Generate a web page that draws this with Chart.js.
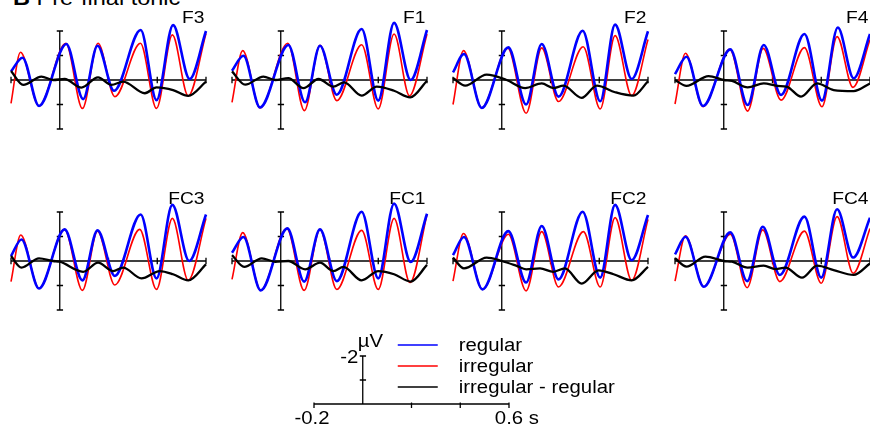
<!DOCTYPE html>
<html>
<head>
<meta charset="utf-8">
<script src="https://cdn.jsdelivr.net/npm/chart.js@4.4.1/dist/chart.umd.min.js"></script>
<style>
html, body { margin: 0; padding: 0; background: #fff; width: 870px; height: 431px; overflow: hidden; }
canvas { position: absolute; }
#title { position: absolute; left: 13px; top: -13px; font: 21px "Liberation Sans", Arial, sans-serif; line-height: 21px; white-space: nowrap; transform: scaleX(1.12); transform-origin: 0 0; }
</style>
</head>
<body>
<div id="title"><b>B</b> Pre-final tonic</div>
<script>
// electrodes, in reading order (row 1 then row 2)
const electrodes = ['F3', 'F1', 'F2', 'F4', 'FC3', 'FC1', 'FC2', 'FC4'];
const legendLabels = ['regular', 'irregular', 'irregular - regular'];
const timeTicks = [-0.2, 0, 0.2, 0.4, 0.6];
const voltTicks = [-2, -1, 0, 1, 2];
const scaleTimeLabels = ['-0.2', '0.6 s'];
const scaleVoltLabels = ['-2', 'µV'];

// [time (s), amplitude (µV)] at peaks / troughs
const F3_regular = [[-0.2,-0.35],[-0.153,-0.91],[-0.085,1.06],[0.027,-1.47],[0.096,0.78],[0.155,-1.40],[0.223,0.44],[0.332,-2.04],[0.397,0.82],[0.465,-2.24],[0.533,-0.04],[0.6,-2.0]];
const F3_irregular = [[-0.2,0.95],[-0.161,-1.13],[-0.085,1.06],[0.025,-1.50],[0.093,1.16],[0.157,-1.50],[0.226,0.68],[0.331,-1.50],[0.397,1.16],[0.462,-1.84],[0.527,0.65],[0.6,-1.9]];
const F3_diff = [[-0.2,-0.37],[-0.15,0.2],[-0.075,-0.14],[-0.027,0.0],[0.02,-0.04],[0.089,0.31],[0.157,-0.11],[0.212,0.2],[0.26,0.07],[0.349,0.54],[0.397,0.3],[0.465,0.41],[0.527,0.65],[0.6,0.07]];

const F1_regular = [[-0.2,-0.38],[-0.153,-0.99],[-0.085,1.12],[0.031,-1.43],[0.1,0.91],[0.161,-1.40],[0.23,0.6],[0.332,-2.08],[0.4,0.84],[0.465,-2.33],[0.533,0.0],[0.6,-2.04]];
const F1_irregular = [[-0.2,0.91],[-0.156,-1.2],[-0.085,1.14],[0.029,-1.5],[0.097,1.25],[0.161,-1.42],[0.23,0.84],[0.332,-1.44],[0.4,1.18],[0.465,-1.88],[0.528,0.64],[0.6,-1.88]];
const F1_diff = [[-0.2,-0.35],[-0.146,0.19],[-0.071,-0.14],[-0.023,0.0],[0.031,-0.08],[0.093,0.33],[0.155,-0.04],[0.216,0.27],[0.26,0.1],[0.332,0.64],[0.394,0.27],[0.465,0.44],[0.531,0.71],[0.6,0.03]];

const F2_regular = [[-0.2,-0.31],[-0.155,-1.06],[-0.082,1.14],[0.027,-1.33],[0.1,1.0],[0.164,-1.47],[0.233,0.68],[0.332,-2.01],[0.404,0.87],[0.465,-2.26],[0.533,-0.04],[0.6,-1.99]];
const F2_irregular = [[-0.2,1.0],[-0.157,-1.2],[-0.082,1.14],[0.025,-1.3],[0.1,1.36],[0.164,-1.31],[0.233,0.88],[0.334,-1.36],[0.404,1.18],[0.465,-1.81],[0.533,0.64],[0.6,-1.65]];
const F2_diff = [[-0.2,-0.08],[-0.15,0.23],[-0.062,-0.22],[0.02,0.0],[0.096,0.33],[0.164,0.14],[0.212,0.33],[0.253,0.23],[0.328,0.73],[0.39,0.23],[0.465,0.5],[0.54,0.64],[0.6,0.05]];

const F4_regular = [[-0.2,-0.24],[-0.153,-0.95],[-0.085,1.06],[0.027,-1.25],[0.098,1.02],[0.164,-1.43],[0.235,0.61],[0.331,-1.88],[0.403,0.84],[0.468,-2.14],[0.533,-0.07],[0.6,-1.88]];
const F4_irregular = [[-0.2,0.98],[-0.157,-1.09],[-0.085,1.09],[0.025,-1.25],[0.098,1.27],[0.162,-1.29],[0.235,0.82],[0.331,-1.32],[0.403,1.09],[0.465,-1.77],[0.53,0.3],[0.6,-1.65]];
const F4_diff = [[-0.2,0.0],[-0.153,0.24],[-0.062,-0.16],[0.0,0.0],[0.034,0.04],[0.098,0.3],[0.164,0.14],[0.219,0.24],[0.26,0.28],[0.317,0.68],[0.383,0.14],[0.451,0.41],[0.533,0.45],[0.6,0.14]];

const FC3_regular = [[-0.2,-0.2],[-0.157,-0.88],[-0.085,1.12],[0.02,-1.29],[0.093,0.79],[0.155,-1.25],[0.226,0.61],[0.332,-1.9],[0.397,0.71],[0.462,-2.29],[0.531,0.0],[0.6,-1.9]];
const FC3_irregular = [[-0.2,0.84],[-0.16,-1.06],[-0.085,1.12],[0.02,-1.29],[0.093,1.2],[0.155,-1.22],[0.226,0.98],[0.328,-1.29],[0.397,1.16],[0.462,-1.74],[0.527,0.79],[0.6,-1.74]];
const FC3_diff = [[-0.2,-0.2],[-0.157,0.27],[-0.085,-0.11],[-0.027,0.0],[0.0,0.03],[0.096,0.44],[0.157,0.07],[0.219,0.41],[0.26,0.27],[0.335,0.71],[0.41,0.41],[0.465,0.54],[0.527,0.79],[0.6,0.14]];

const FC1_regular = [[-0.2,-0.34],[-0.153,-0.98],[-0.082,1.2],[0.027,-1.33],[0.096,0.84],[0.161,-1.29],[0.23,0.82],[0.332,-2.01],[0.4,0.71],[0.465,-2.34],[0.533,0.04],[0.6,-1.93]];
const FC1_irregular = [[-0.2,0.75],[-0.156,-1.16],[-0.082,1.2],[0.025,-1.33],[0.096,1.2],[0.161,-1.29],[0.23,1.16],[0.332,-1.25],[0.4,1.16],[0.465,-1.74],[0.53,0.88],[0.6,-1.9]];
const FC1_diff = [[-0.2,-0.24],[-0.15,0.24],[-0.078,-0.11],[-0.023,0.03],[0.031,0.0],[0.1,0.34],[0.161,0.07],[0.216,0.41],[0.257,0.24],[0.332,0.79],[0.4,0.41],[0.465,0.54],[0.533,0.84],[0.6,0.16]];

const FC2_regular = [[-0.2,-0.24],[-0.155,-0.98],[-0.079,1.16],[0.027,-1.22],[0.1,0.88],[0.164,-1.43],[0.233,0.75],[0.332,-2.01],[0.404,0.68],[0.465,-2.29],[0.533,-0.03],[0.6,-1.88]];
const FC2_irregular = [[-0.2,0.82],[-0.157,-1.12],[-0.079,1.16],[0.027,-1.09],[0.1,1.22],[0.164,-1.2],[0.233,1.06],[0.335,-1.2],[0.404,1.06],[0.465,-1.77],[0.533,0.79],[0.6,-1.7]];
const FC2_diff = [[-0.2,-0.14],[-0.155,0.3],[-0.062,-0.14],[0.0,0.0],[0.061,0.2],[0.1,0.34],[0.157,0.3],[0.212,0.44],[0.259,0.3],[0.328,0.92],[0.397,0.38],[0.459,0.54],[0.533,0.79],[0.6,0.24]];

const FC4_regular = [[-0.2,-0.27],[-0.157,-0.99],[-0.082,1.05],[0.027,-1.17],[0.096,0.82],[0.16,-1.4],[0.23,0.57],[0.331,-1.81],[0.4,0.68],[0.465,-2.11],[0.531,-0.14],[0.6,-1.77]];
const FC4_irregular = [[-0.2,0.82],[-0.157,-1.03],[-0.082,1.05],[0.027,-1.09],[0.096,1.09],[0.16,-1.27],[0.23,0.84],[0.331,-1.22],[0.4,0.91],[0.465,-1.81],[0.531,0.5],[0.6,-1.33]];
const FC4_diff = [[-0.2,-0.11],[-0.153,0.23],[-0.075,-0.18],[0.0,0.0],[0.034,0.03],[0.098,0.27],[0.164,0.19],[0.212,0.33],[0.253,0.27],[0.321,0.68],[0.383,0.19],[0.451,0.37],[0.533,0.57],[0.6,0.1]];

const series = {
    F3: [F3_regular, F3_irregular, F3_diff],
    F1: [F1_regular, F1_irregular, F1_diff],
    F2: [F2_regular, F2_irregular, F2_diff],
    F4: [F4_regular, F4_irregular, F4_diff],
    FC3: [FC3_regular, FC3_irregular, FC3_diff],
    FC1: [FC1_regular, FC1_irregular, FC1_diff],
    FC2: [FC2_regular, FC2_irregular, FC2_diff],
    FC4: [FC4_regular, FC4_irregular, FC4_diff]
};

// layout (page pixels)
const colX = [11.3, 232.2, 453, 674.6];   // left end (-0.2 s) of each column
const rowY = [79.7, 260.5];                // zero line of each row
const PX_PER_S = 243.75;
const PX_PER_UV = 24.5;
const PAD = { left: 10, right: 10, top: 36, bottom: 22 };
const TEXT_STRETCH = 1.13;
const FONT = '"Liberation Sans", Arial, sans-serif';
const colors = ['#0000ff', '#ff0000', '#000000'];
const widths = [2.6, 1.6, 2.3];

function stretchedText(ctx, text, x, y, align) {
    ctx.save();
    ctx.translate(x, y);
    ctx.scale(TEXT_STRETCH, 1);
    ctx.textAlign = align;
    ctx.fillText(text, 0, 0);
    ctx.restore();
}

const erpAxes = {
    id: 'erpAxes',
    beforeDatasetsDraw(chart, args, opts) {
        const { ctx, scales: { x, y } } = chart;
        const x0 = x.getPixelForValue(0);
        const y0 = y.getPixelForValue(0);
        ctx.save();
        ctx.strokeStyle = '#000';
        ctx.lineWidth = 1.3;
        ctx.beginPath();
        ctx.moveTo(x.getPixelForValue(x.min), y0);
        ctx.lineTo(x.getPixelForValue(x.max), y0);
        ctx.moveTo(x0, y.getPixelForValue(y.min));
        ctx.lineTo(x0, y.getPixelForValue(y.max));
        timeTicks.forEach(t => {
            if (t === 0) return;
            const px = x.getPixelForValue(t);
            ctx.moveTo(px, y0 - opts.xTickUp);
            ctx.lineTo(px, y0 + opts.xTickDown);
        });
        voltTicks.forEach(v => {
            if (v === 0 || v < y.min || v > y.max) return;
            const py = y.getPixelForValue(v);
            ctx.moveTo(x0 - 3, py);
            ctx.lineTo(x0 + 3.3, py);
        });
        ctx.stroke();
        ctx.restore();
    },
    afterDatasetsDraw(chart, args, opts) {
        if (!opts.label) return;
        const { ctx, chartArea } = chart;
        ctx.save();
        ctx.fillStyle = '#000';
        ctx.font = '17px ' + FONT;
        stretchedText(ctx, opts.label, chartArea.right - 1.5, chart.scales.y.getPixelForValue(0) - 57, 'right');
        ctx.restore();
    }
};

const scaleBarText = {
    id: 'scaleBarText',
    afterDraw(chart) {
        const { ctx, scales: { x, y } } = chart;
        const x0 = x.getPixelForValue(0);
        const yTop = y.getPixelForValue(-2);
        const y0 = y.getPixelForValue(0);
        ctx.save();
        ctx.fillStyle = '#000';
        ctx.font = '18px ' + FONT;
        stretchedText(ctx, scaleVoltLabels[0], x0 - 4.5, yTop + 6.5, 'right');
        stretchedText(ctx, scaleVoltLabels[1], x0 - 5, yTop - 9, 'left');
        stretchedText(ctx, scaleTimeLabels[0], x.getPixelForValue(-0.2) - 2, y0 + 19.5, 'center');
        const w06 = ctx.measureText('0.6').width * TEXT_STRETCH;
        stretchedText(ctx, scaleTimeLabels[1], x.getPixelForValue(0.6) - w06 / 2, y0 + 19.5, 'left');
        // legend
        chart.data.datasets.forEach((ds, i) => {
            const ly = yTop - 11 + i * 21;
            const lx = x0 + 35;
            ctx.strokeStyle = ds.borderColor;
            ctx.lineWidth = 1.4;
            ctx.beginPath();
            ctx.moveTo(lx, ly);
            ctx.lineTo(lx + 40, ly);
            ctx.stroke();
            stretchedText(ctx, ds.label, lx + 61, ly + 6, 'left');
        });
        ctx.restore();
    }
};

function makeCanvas(left, top, width, height) {
    const c = document.createElement('canvas');
    c.width = width;
    c.height = height;
    c.style.left = left + 'px';
    c.style.top = top + 'px';
    c.style.width = width + 'px';
    c.style.height = height + 'px';
    document.body.appendChild(c);
    return c;
}

const panelW = 0.8 * PX_PER_S;
const panelH = 4 * PX_PER_UV;

electrodes.forEach((name, i) => {
    const col = i % 4, row = Math.floor(i / 4);
    const canvas = makeCanvas(colX[col] - PAD.left, rowY[row] - panelH / 2 - PAD.top,
        Math.round(panelW + PAD.left + PAD.right), Math.round(panelH + PAD.top + PAD.bottom));
    const [reg, irr, diff] = series[name];
    const mk = (data, k, order) => ({
        label: legendLabels[k], data: data, borderColor: colors[k], borderWidth: widths[k],
        pointRadius: 0, fill: false, cubicInterpolationMode: 'monotone', clip: false, order: order
    });
    new Chart(canvas, {
        type: 'line',
        data: { datasets: [mk(diff, 2, 0), mk(reg, 0, 1), mk(irr, 1, 2)] },
        options: {
            responsive: false, animation: false, events: [],
            layout: { padding: { left: PAD.left, right: canvas.width - PAD.left - panelW, top: PAD.top, bottom: canvas.height - PAD.top - panelH } },
            scales: {
                x: { type: 'linear', min: -0.2, max: 0.6, display: false },
                y: { type: 'linear', min: -2, max: 2, reverse: true, display: false }
            },
            plugins: { legend: { display: false }, tooltip: { enabled: false }, erpAxes: { label: name, xTickUp: 3.3, xTickDown: 3.3 } }
        },
        plugins: [erpAxes]
    });
});

// scale bar + legend
const sbLeft = 313.7, sbTop = 356, sbH = 48;
const sbPad = { left: 40, right: 135, top: 32, bottom: 26 };
const sbCanvas = makeCanvas(sbLeft - sbPad.left, sbTop - sbPad.top,
    Math.round(sbPad.left + panelW + sbPad.right), sbPad.top + sbH + sbPad.bottom);
new Chart(sbCanvas, {
    type: 'line',
    data: { datasets: legendLabels.map((l, k) => ({ label: l, data: [], borderColor: colors[k] })) },
    options: {
        responsive: false, animation: false, events: [],
        layout: { padding: { left: sbPad.left, right: sbCanvas.width - sbPad.left - panelW, top: sbPad.top, bottom: sbPad.bottom } },
        scales: {
            x: { type: 'linear', min: -0.2, max: 0.6, display: false },
            y: { type: 'linear', min: -2, max: 0, reverse: true, display: false }
        },
        plugins: { legend: { display: false }, tooltip: { enabled: false }, erpAxes: { xTickUp: 1.5, xTickDown: 4 } }
    },
    plugins: [erpAxes, scaleBarText]
});
</script>
</body>
</html>
